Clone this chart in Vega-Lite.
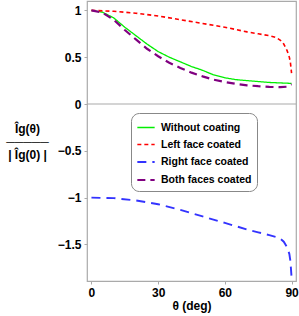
{
  "$schema": "https://vega.github.io/schema/vega-lite/v6.json",
  "autosize": "none",
  "width": 209,
  "height": 280,
  "padding": {"left": 87, "top": 1, "right": 3, "bottom": 35},
  "background": "white",
  "config": {
    "view": {"stroke": "#aaaaaa", "strokeWidth": 1.2},
    "font": "Liberation Sans"
  },
  "data": {"values": [
    {"s": "Without coating", "t": 0, "v": 1}, {"s": "Without coating", "t": 5, "v": 0.98}, {"s": "Without coating", "t": 10, "v": 0.92}, {"s": "Without coating", "t": 15, "v": 0.82}, {"s": "Without coating", "t": 20, "v": 0.73}, {"s": "Without coating", "t": 25, "v": 0.64}, {"s": "Without coating", "t": 30, "v": 0.56}, {"s": "Without coating", "t": 35, "v": 0.5}, {"s": "Without coating", "t": 40, "v": 0.45}, {"s": "Without coating", "t": 45, "v": 0.4}, {"s": "Without coating", "t": 50, "v": 0.36}, {"s": "Without coating", "t": 55, "v": 0.31}, {"s": "Without coating", "t": 60, "v": 0.28}, {"s": "Without coating", "t": 65, "v": 0.26}, {"s": "Without coating", "t": 70, "v": 0.25}, {"s": "Without coating", "t": 75, "v": 0.24}, {"s": "Without coating", "t": 80, "v": 0.23}, {"s": "Without coating", "t": 85, "v": 0.225}, {"s": "Without coating", "t": 90, "v": 0.22},
    {"s": "Left face coated", "t": 0, "v": 1}, {"s": "Left face coated", "t": 10, "v": 0.99}, {"s": "Left face coated", "t": 20, "v": 0.97}, {"s": "Left face coated", "t": 30, "v": 0.94}, {"s": "Left face coated", "t": 40, "v": 0.9}, {"s": "Left face coated", "t": 50, "v": 0.86}, {"s": "Left face coated", "t": 60, "v": 0.82}, {"s": "Left face coated", "t": 70, "v": 0.77}, {"s": "Left face coated", "t": 75, "v": 0.75}, {"s": "Left face coated", "t": 80, "v": 0.73}, {"s": "Left face coated", "t": 83, "v": 0.71}, {"s": "Left face coated", "t": 85, "v": 0.68}, {"s": "Left face coated", "t": 86.5, "v": 0.64}, {"s": "Left face coated", "t": 88, "v": 0.57}, {"s": "Left face coated", "t": 89, "v": 0.5}, {"s": "Left face coated", "t": 89.5, "v": 0.44}, {"s": "Left face coated", "t": 90, "v": 0.33},
    {"s": "Right face coated", "t": 0, "v": -1}, {"s": "Right face coated", "t": 10, "v": -1.005}, {"s": "Right face coated", "t": 20, "v": -1.03}, {"s": "Right face coated", "t": 30, "v": -1.07}, {"s": "Right face coated", "t": 40, "v": -1.13}, {"s": "Right face coated", "t": 50, "v": -1.2}, {"s": "Right face coated", "t": 60, "v": -1.27}, {"s": "Right face coated", "t": 70, "v": -1.34}, {"s": "Right face coated", "t": 75, "v": -1.37}, {"s": "Right face coated", "t": 80, "v": -1.4}, {"s": "Right face coated", "t": 83, "v": -1.42}, {"s": "Right face coated", "t": 85, "v": -1.44}, {"s": "Right face coated", "t": 86.5, "v": -1.47}, {"s": "Right face coated", "t": 88, "v": -1.53}, {"s": "Right face coated", "t": 89, "v": -1.6}, {"s": "Right face coated", "t": 89.5, "v": -1.68}, {"s": "Right face coated", "t": 90, "v": -1.85},
    {"s": "Both faces coated", "t": 0, "v": 1}, {"s": "Both faces coated", "t": 5, "v": 0.975}, {"s": "Both faces coated", "t": 10, "v": 0.9}, {"s": "Both faces coated", "t": 15, "v": 0.79}, {"s": "Both faces coated", "t": 20, "v": 0.69}, {"s": "Both faces coated", "t": 25, "v": 0.59}, {"s": "Both faces coated", "t": 30, "v": 0.51}, {"s": "Both faces coated", "t": 35, "v": 0.44}, {"s": "Both faces coated", "t": 40, "v": 0.385}, {"s": "Both faces coated", "t": 45, "v": 0.335}, {"s": "Both faces coated", "t": 50, "v": 0.295}, {"s": "Both faces coated", "t": 55, "v": 0.26}, {"s": "Both faces coated", "t": 60, "v": 0.235}, {"s": "Both faces coated", "t": 65, "v": 0.215}, {"s": "Both faces coated", "t": 70, "v": 0.2}, {"s": "Both faces coated", "t": 75, "v": 0.19}, {"s": "Both faces coated", "t": 80, "v": 0.183}, {"s": "Both faces coated", "t": 85, "v": 0.18}, {"s": "Both faces coated", "t": 88, "v": 0.185}, {"s": "Both faces coated", "t": 90, "v": 0.21}
  ]},
  "layer": [
    {
      "data": {"values": [{"z": 0}]},
      "mark": {"type": "rule", "color": "#aaaaaa", "strokeWidth": 1.2},
      "encoding": {"y": {"field": "z", "type": "quantitative"}}
    },
    {
      "mark": {"type": "line", "clip": true},
      "encoding": {
        "x": {
          "field": "t", "type": "quantitative",
          "scale": {"domain": [-2, 92], "nice": false, "zero": false},
          "axis": {
            "values": [0, 30, 60, 90], "grid": false, "domain": false,
            "tickColor": "#aaaaaa", "tickSize": 3, "labelFontSize": 12, "labelFontWeight": "bold", "labelColor": "black", "labelPadding": 3,
            "title": "θ (deg)", "titleFontSize": 12, "titleFontWeight": "bold", "titleColor": "black", "titlePadding": 2
          }
        },
        "y": {
          "field": "v", "type": "quantitative",
          "scale": {"domain": [-1.89, 1.1], "nice": false, "zero": false},
          "axis": {
            "values": [-1.5, -1, -0.5, 0, 0.5, 1], "format": "~g", "grid": false, "domain": false,
            "tickColor": "#aaaaaa", "tickSize": 3, "labelFontSize": 12, "labelFontWeight": "bold", "labelColor": "black", "labelPadding": 3,
            "title": ["Îg(θ)", "─────", "| Îg(0) |"], "titleAngle": 0, "titleFontSize": 12, "titleFontWeight": "bold", "titleColor": "black",
            "titleX": -60, "titleY": 127, "titleAlign": "center", "titleBaseline": "middle", "titleLineHeight": 13
          }
        },
        "color": {
          "field": "s", "type": "nominal",
          "scale": {"domain": ["Without coating", "Left face coated", "Right face coated", "Both faces coated"], "range": ["#00ee00", "#ff0000", "#3333ff", "#800080"]},
          "legend": {
            "title": null, "orient": "none", "legendX": 44, "legendY": 112,
            "strokeColor": "#888888", "cornerRadius": 8, "padding": 5, "fillColor": "white",
            "symbolType": "stroke", "symbolSize": 300, "symbolStrokeWidth": 1.5,
            "labelFontSize": 10.5, "labelFontWeight": "bold", "labelColor": "black", "rowPadding": 2, "labelOffset": 5
          }
        },
        "strokeDash": {
          "field": "s", "type": "nominal",
          "scale": {"domain": ["Without coating", "Left face coated", "Right face coated", "Both faces coated"], "range": [[1, 0], [4, 3], [9, 6], [8, 5]]},
          "legend": null
        },
        "strokeWidth": {
          "field": "s", "type": "nominal",
          "scale": {"domain": ["Without coating", "Left face coated", "Right face coated", "Both faces coated"], "range": [1.3, 2.2, 1.3, 2.8]},
          "legend": null
        }
      }
    }
  ]
}
